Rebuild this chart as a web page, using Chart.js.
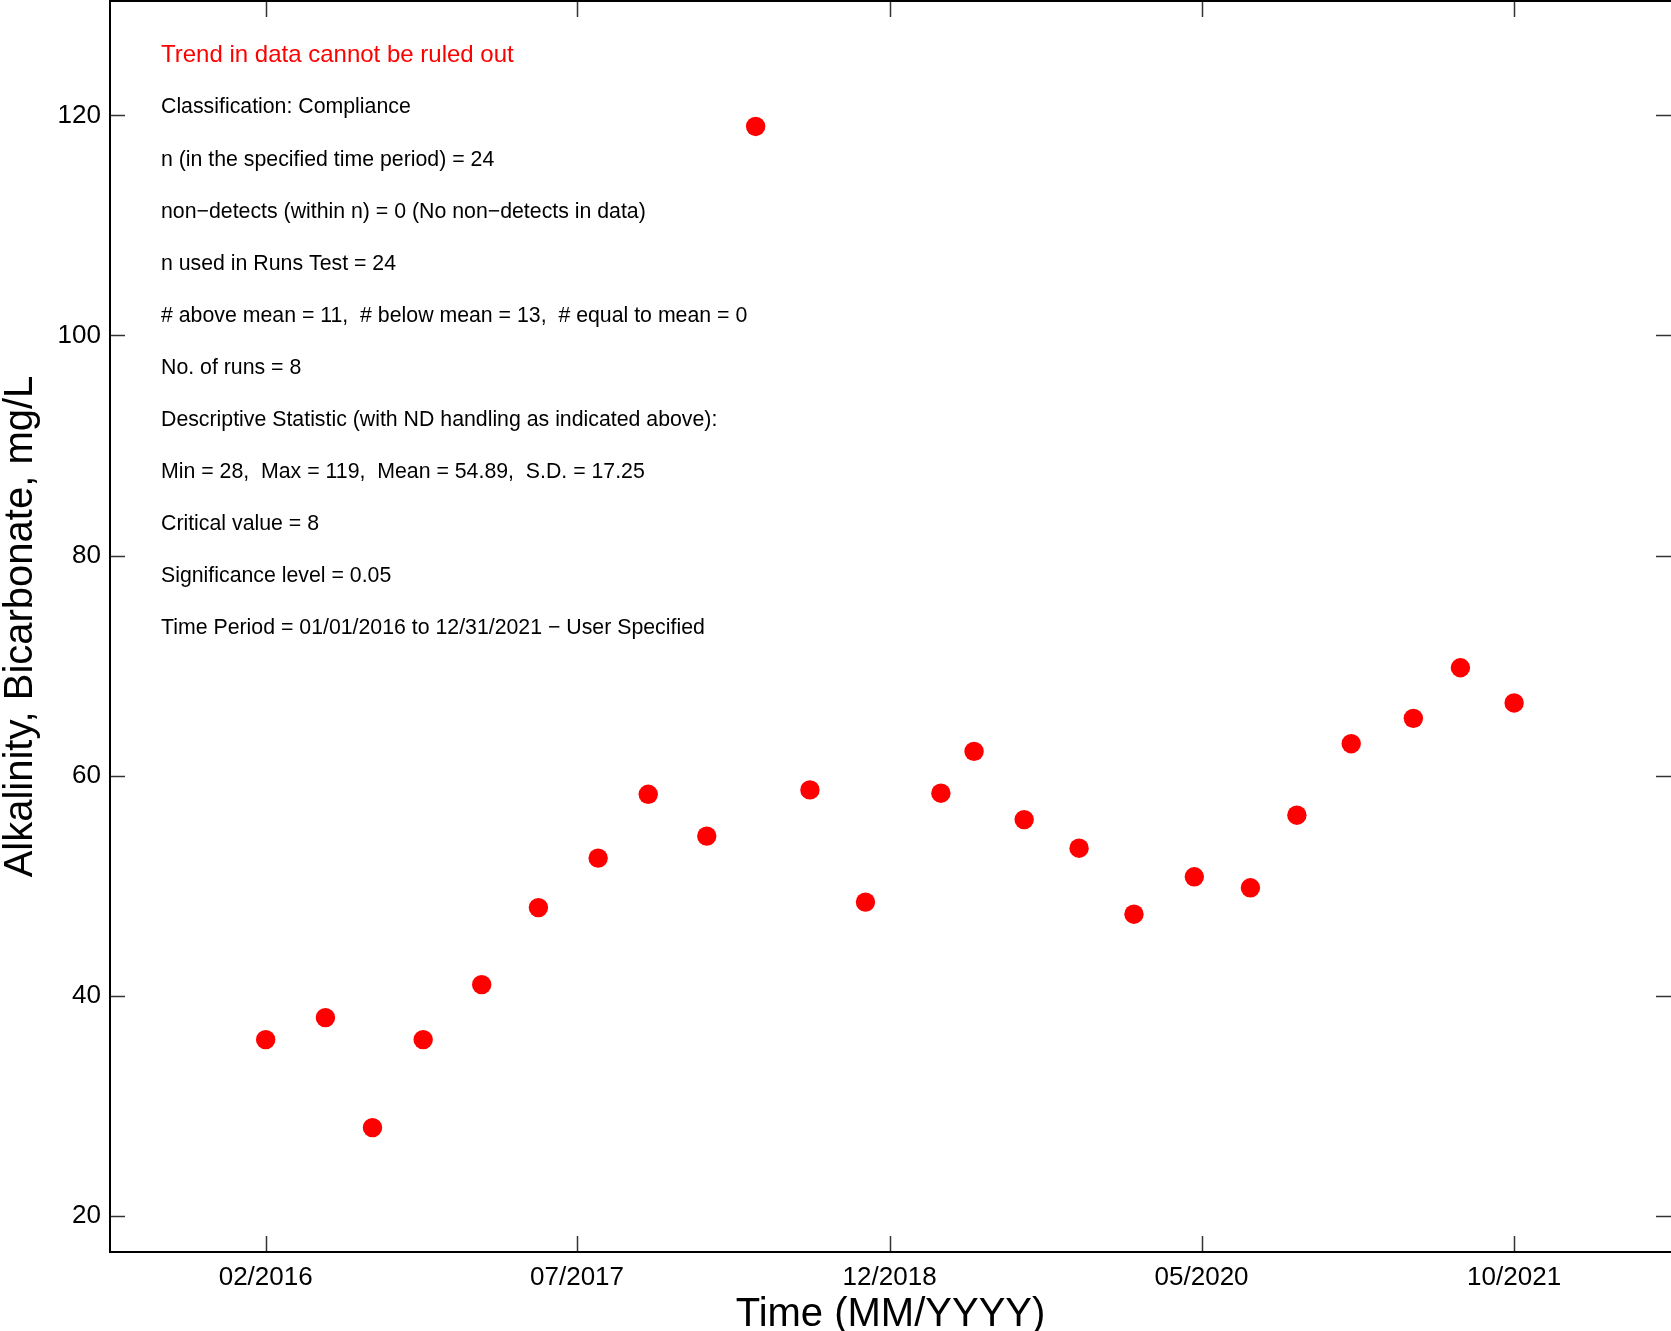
<!DOCTYPE html>
<html>
<head>
<meta charset="utf-8">
<script src="https://cdn.jsdelivr.net/npm/chart.js@4/dist/chart.umd.min.js"></script>
<style>
html,body{margin:0;padding:0;background:#fff;}
#wrap{width:1671px;height:1331px;position:relative;}
</style>
</head>
<body>
<div id="wrap"><canvas id="c" width="1671" height="1331"></canvas></div>
<script>
// ---- data ----
const sampleDates = ["2016-02-01","2016-05-10","2016-07-27","2016-10-19","2017-01-24","2017-04-28",
  "2017-08-05","2017-10-27","2018-02-01","2018-04-23","2018-07-22","2018-10-22",
  "2019-02-24","2019-04-20","2019-07-12","2019-10-11","2020-01-10","2020-04-19",
  "2020-07-21","2020-10-06","2021-01-04","2021-04-17","2021-07-04","2021-10-01"];
const alkalinity = [36,38,28,36,41,48,52.5,58.3,54.5,119,58.7,48.5,
  58.4,62.2,56,53.4,47.4,50.8,49.8,56.4,62.9,65.2,69.8,66.6];
const xTickDates = ["2016-02-01","2017-07-01","2018-12-01","2020-05-01","2021-10-01"];
const yTickValues = [20,40,60,80,100,120];
const infoLines = [
  "Trend in data cannot be ruled out",
  "Classification: Compliance",
  "n (in the specified time period) = 24",
  "non\u2212detects (within n) = 0 (No non\u2212detects in data)",
  "n used in Runs Test = 24",
  "# above mean = 11,  # below mean = 13,  # equal to mean = 0",
  "No. of runs = 8",
  "Descriptive Statistic (with ND handling as indicated above):",
  "Min = 28,  Max = 119,  Mean = 54.89,  S.D. = 17.25",
  "Critical value = 8",
  "Significance level = 0.05",
  "Time Period = 01/01/2016 to 12/31/2021 \u2212 User Specified"
];
const xTitle = "Time (MM/YYYY)";
const yTitle = "Alkalinity, Bicarbonate, mg/L";

// ---- helpers ----
function toDay(s){const p=s.split("-").map(Number);return Date.UTC(p[0],p[1]-1,p[2])/86400000;}
function fmt(d){const dt=new Date(d*86400000);const m=dt.getUTCMonth()+1;return (m<10?"0":"")+m+"/"+dt.getUTCFullYear();}
function noPad(s){s.paddingTop=0;s.paddingBottom=0;s.paddingLeft=0;s.paddingRight=0;}

const points = sampleDates.map((d,i)=>({x:toDay(d),y:alkalinity[i]}));
const FONT = "'Liberation Sans', Arial, sans-serif";

const framePlugin = {
  id:'frame',
  afterDraw(chart){
    const ctx=chart.ctx, a=chart.chartArea, xs=chart.scales.x, ys=chart.scales.y;
    ctx.save();
    // ticks
    ctx.strokeStyle='#333'; ctx.lineWidth=1.5;
    xs.ticks.forEach(t=>{
      const px=Math.round(xs.getPixelForValue(t.value))+0.5;
      ctx.beginPath(); ctx.moveTo(px,a.bottom); ctx.lineTo(px,a.bottom-16); ctx.stroke();
      ctx.beginPath(); ctx.moveTo(px,a.top); ctx.lineTo(px,a.top+16); ctx.stroke();
    });
    ys.ticks.forEach(t=>{
      const py=Math.round(ys.getPixelForValue(t.value))+0.5;
      ctx.beginPath(); ctx.moveTo(a.left,py); ctx.lineTo(a.left+15,py); ctx.stroke();
      ctx.beginPath(); ctx.moveTo(a.right,py); ctx.lineTo(a.right-15,py); ctx.stroke();
    });
    // frame
    ctx.strokeStyle='#000'; ctx.lineWidth=2;
    ctx.beginPath();
    ctx.moveTo(a.right,a.top); ctx.lineTo(a.left,a.top); ctx.lineTo(a.left,a.bottom); ctx.lineTo(a.right,a.bottom);
    ctx.stroke();
    // annotation text
    ctx.textBaseline='middle'; ctx.textAlign='left';
    infoLines.forEach((s,i)=>{
      if(i===0){ctx.fillStyle='#ff0000'; ctx.font='24px '+FONT;}
      else {ctx.fillStyle='#000'; ctx.font='21.3px '+FONT;}
      ctx.fillText(s, a.left+51, a.top+54.5+i*52.1);
    });
    ctx.restore();
  }
};

new Chart(document.getElementById('c'),{
  type:'scatter',
  data:{datasets:[{data:points,backgroundColor:'#ff0000',borderColor:'#ff0000',borderWidth:0,pointRadius:9.7,pointHoverRadius:9.7}]},
  options:{
    responsive:false, animation:false, devicePixelRatio:1,
    layout:{autoPadding:false,padding:{top:1,right:0,left:0,bottom:0}},
    plugins:{legend:{display:false},tooltip:{enabled:false}},
    scales:{
      x:{type:'linear',position:'bottom',
        min:toDay("2015-05-19"), max:toDay("2022-06-18"),
        grid:{display:false,drawTicks:false}, border:{display:false},
        afterBuildTicks(s){s.ticks=xTickDates.map(d=>({value:toDay(d)}));},
        afterFit(s){s.height=79;noPad(s);},
        ticks:{autoSkip:false,maxRotation:0,padding:10,color:'#000',font:{family:FONT,size:26},callback:v=>fmt(v)},
        title:{display:true,text:xTitle,color:'#000',font:{family:FONT,size:40,lineHeight:0.8},padding:0}
      },
      y:{type:'linear',position:'left',min:16.7,max:130.4,
        grid:{display:false,drawTicks:false}, border:{display:false},
        afterBuildTicks(s){s.ticks=yTickValues.map(v=>({value:v}));},
        afterFit(s){s.width=110;noPad(s);},
        ticks:{padding:9,color:'#000',font:{family:FONT,size:26},callback:v=>String(v)},
        title:{display:true,text:yTitle,color:'#000',font:{family:FONT,size:40,lineHeight:1},padding:{top:1,bottom:0}}
      }
    }
  },
  plugins:[framePlugin]
});
</script>
</body>
</html>
